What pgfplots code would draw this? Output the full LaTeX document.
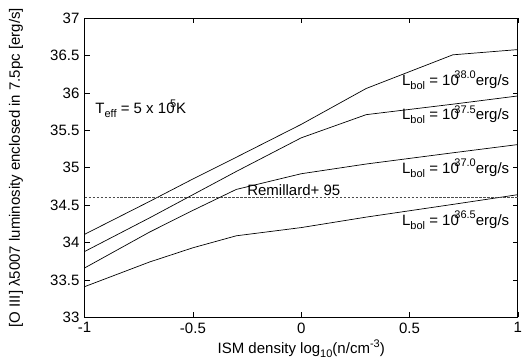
\documentclass[border=0pt]{standalone}
\usepackage{fontspec}
\setmainfont{Liberation Sans}
\usepackage{pgfplots}
\pgfplotsset{compat=1.18}
\newcommand{\sub}[1]{\raisebox{-0.25em}{\fontsize{11bp}{12bp}\selectfont #1}}
\newcommand{\sups}[1]{\raisebox{0.45em}{\fontsize{11bp}{12bp}\selectfont #1}}
\begin{document}
\fontsize{15bp}{18bp}\selectfont
\begin{tikzpicture}
\begin{axis}[
  scale only axis,
  width=433bp, height=299bp,
  xmin=-1, xmax=1, ymin=33, ymax=37,
  xtick={-1,-0.5,0,0.5,1},
  ytick={33,33.5,34,34.5,35,35.5,36,36.5,37},
  xticklabels={-1,-0.5,0,0.5,1},
  yticklabels={33,33.5,34,34.5,35,35.5,36,36.5,37},
  x tick label style={inner xsep=0pt},
  tick align=inside,
  major tick length=5bp,
  tick style={black, line width=0.6pt},
  axis line style={line width=0.9pt},
  /pgf/number format/assume math mode=true,
  xlabel={ISM density log\sub{10}(n/cm\sups{-3})},
  ylabel={[O III] λ5007 luminosity enclosed in 7.5pc [erg/s]},
  xlabel style={yshift=4bp},
  ylabel style={yshift=17bp},
  clip=false,
]
\addplot[black, no marks, line width=0.7pt] coordinates {(-1,34.11) (-0.7,34.55) (-0.5,34.85) (-0.3,35.14) (0,35.58) (0.3,36.06) (0.7,36.51) (1,36.58)};
\addplot[black, no marks, line width=0.7pt] coordinates {(-1,33.88) (-0.7,34.33) (-0.5,34.64) (-0.3,34.95) (0,35.40) (0.3,35.71) (0.7,35.85) (1,35.96)};
\addplot[black, no marks, line width=0.7pt] coordinates {(-1,33.66) (-0.7,34.14) (-0.5,34.43) (-0.3,34.71) (0,34.92) (0.3,35.05) (0.7,35.20) (1,35.31)};
\addplot[black, no marks, line width=0.7pt] coordinates {(-1,33.41) (-0.7,33.74) (-0.5,33.93) (-0.3,34.09) (0,34.20) (0.3,34.34) (0.7,34.51) (1,34.64)};
\addplot[gray!60!black, no marks, line width=0.6pt, dash pattern=on 2.5pt off 1.5pt] coordinates {(-1,34.6) (1,34.6)};
\node[anchor=base west, inner sep=0pt] at (axis cs:-0.25,34.635) {Remillard+ 95};
\node[anchor=base west, inner sep=0pt] at (axis cs:-0.951,35.72) {T\sub{eff} = 5 x 10\hspace{-0.3em}\sups{5}K};
\node[anchor=base east, inner sep=0pt] at (axis cs:0.961,36.10) {L\sub{bol} = 10\hspace{-0.3em}\sups{38.0}erg/s};
\node[anchor=base east, inner sep=0pt] at (axis cs:0.961,35.64) {L\sub{bol} = 10\hspace{-0.3em}\sups{37.5}erg/s};
\node[anchor=base east, inner sep=0pt] at (axis cs:0.961,34.92) {L\sub{bol} = 10\hspace{-0.3em}\sups{37.0}erg/s};
\node[anchor=base east, inner sep=0pt] at (axis cs:0.961,34.23) {L\sub{bol} = 10\hspace{-0.3em}\sups{36.5}erg/s};
\end{axis}
\path (current bounding box.west) ++(-4bp,0) coordinate (padL);
\path (padL) -- (current bounding box.west);
\path (current bounding box.north) ++(0,3bp) coordinate (padT);
\path (padT) -- (current bounding box.north);
\end{tikzpicture}
\end{document}
